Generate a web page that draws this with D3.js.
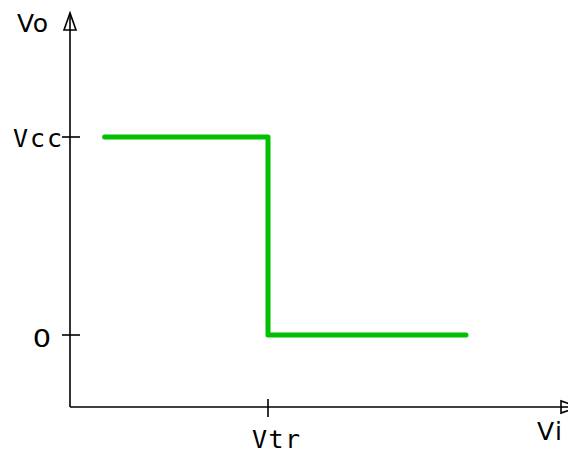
<!DOCTYPE html>
<html><head><meta charset="utf-8">
<script src="https://cdn.jsdelivr.net/npm/d3@7"></script>
<style>body{margin:0;background:#fff;overflow:hidden}svg{display:block}</style>
</head><body>
<svg id="c" width="568" height="454"></svg>
<script>
// data
const viPoints = [0.7, 4, 4, 8];
const voPoints = [1, 1, 0, 0];
const yTickValues = [1, 0];
const yTickLabels = ["Vcc", "0"];
const xTickValues = [4];
const xTickLabels = ["Vtr"];
const axisLabels = ["Vi", "Vo"];

const svg = d3.select("#c");
const x = d3.scaleLinear().domain([0, 8]).range([70, 466]);
const y = d3.scaleLinear().domain([0, 1]).range([335, 137]);
const ox = x(0), oy = 407;
const sans = "'DejaVu Sans', sans-serif";
const mono = "'DejaVu Sans Mono', monospace";
const sw = 1.6;

// axes
svg.append("line").attr("x1", ox).attr("y1", oy).attr("x2", 578).attr("y2", oy)
  .attr("stroke", "#000").attr("stroke-width", sw);
svg.append("line").attr("x1", ox).attr("y1", oy).attr("x2", ox).attr("y2", 13)
  .attr("stroke", "#000").attr("stroke-width", sw);
// arrows (open)
svg.append("path").attr("d", `M${ox},13 L${ox-6},30 L${ox+6},30 Z`)
  .attr("fill", "#fff").attr("stroke", "#000").attr("stroke-width", sw);
svg.append("line").attr("x1", ox).attr("y1", 30).attr("x2", ox).attr("y2", 13)
  .attr("stroke", "#000").attr("stroke-width", sw);
svg.append("path").attr("d", `M578,${oy} L561,${oy-6} L561,${oy+6} Z`)
  .attr("fill", "#fff").attr("stroke", "#000").attr("stroke-width", sw);
svg.append("line").attr("x1", 561).attr("y1", oy).attr("x2", 578).attr("y2", oy)
  .attr("stroke", "#000").attr("stroke-width", sw);

// y ticks
yTickValues.forEach(v => {
  svg.append("line").attr("x1", ox - 8).attr("x2", ox + 10)
    .attr("y1", y(v)).attr("y2", y(v)).attr("stroke", "#000").attr("stroke-width", sw);
});
svg.append("text").attr("x", 13).attr("y", y(1) + 10)
  .attr("font-family", mono).attr("font-size", 25).attr("letter-spacing", 2).text(yTickLabels[0]);
svg.append("text").attr("x", 42).attr("y", y(0) + 12).attr("text-anchor", "middle")
  .attr("font-family", sans).attr("font-size", 24)
  .attr("transform", `translate(42,0) scale(1.2,1) translate(-42,0)`)
  .text(yTickLabels[1]);

// x ticks
xTickValues.forEach((v, i) => {
  svg.append("line").attr("x1", x(v)).attr("x2", x(v))
    .attr("y1", oy - 8).attr("y2", oy + 10).attr("stroke", "#000").attr("stroke-width", sw);
  svg.append("text").attr("x", 252).attr("y", 448)
    .attr("font-family", mono).attr("font-size", 25).attr("letter-spacing", 1.5).text(xTickLabels[i]);
});

// axis labels
svg.append("text").attr("x", 537).attr("y", 440)
  .attr("font-family", sans).attr("font-size", 25).attr("letter-spacing", 1.5).text(axisLabels[0]);
svg.append("text").attr("x", 17).attr("y", 32)
  .attr("font-family", sans).attr("font-size", 25).attr("letter-spacing", 0.5).text(axisLabels[1]);

// transfer curve
const line = d3.line().x(d => x(d[0])).y(d => y(d[1]));
svg.append("path").datum(viPoints.map((v, i) => [v, voPoints[i]]))
  .attr("d", line).attr("fill", "none").attr("stroke", "#00c000")
  .attr("stroke-width", 5).attr("stroke-linejoin", "round").attr("stroke-linecap", "round");
</script>
</body></html>
